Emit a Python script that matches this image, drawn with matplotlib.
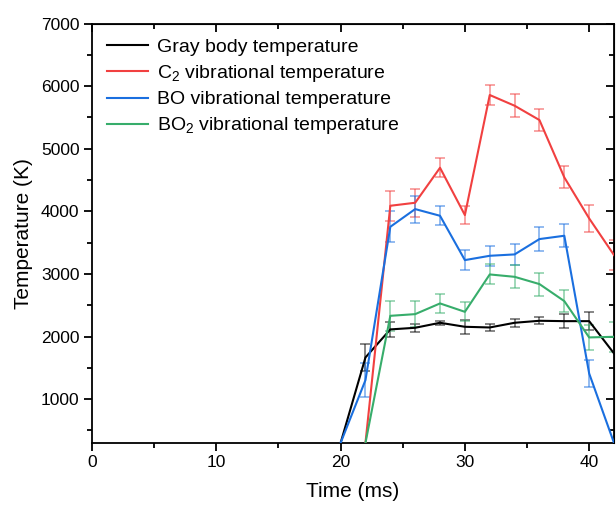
import numpy as np
import matplotlib
matplotlib.use("Agg")
import matplotlib.pyplot as plt
from matplotlib.ticker import MultipleLocator

plt.rcParams['font.family'] = ['Liberation Sans', 'DejaVu Sans']
plt.rcParams['mathtext.fontset'] = 'custom'
plt.rcParams['mathtext.rm'] = 'Liberation Sans'
plt.rcParams['mathtext.it'] = 'Liberation Sans:italic'

# ---- data ----
time_gray = [20, 22, 24, 26, 28, 30, 32, 34, 36, 38, 40, 42]
gray_T = [300, 1666, 2114, 2140, 2220, 2156, 2145, 2220, 2252, 2246, 2246, 1730]
gray_err = [0, 220, 115, 60, 30, 110, 55, 65, 55, 115, 145, 0]

time_c2 = [22, 24, 26, 28, 30, 32, 34, 36, 38, 40, 42]
c2_T = [300, 4089, 4137, 4696, 3940, 5858, 5687, 5458, 4542, 3887, 3301]
c2_err = [0, 240, 225, 150, 150, 160, 185, 175, 175, 210, 240]

time_bo = [20, 22, 24, 26, 28, 30, 32, 34, 36, 38, 40, 42]
bo_T = [300, 1304, 3753, 4036, 3929, 3221, 3290, 3312, 3557, 3610, 1410, 300]
bo_err = [0, 275, 245, 215, 150, 155, 160, 170, 185, 180, 215, 0]

time_bo2 = [22, 24, 26, 28, 30, 32, 34, 36, 38, 40, 42]
bo2_T = [300, 2331, 2358, 2529, 2395, 2992, 2954, 2838, 2566, 1986, 1996]
bo2_err = [0, 240, 210, 150, 150, 160, 185, 185, 180, 205, 240]

labels = ["Gray body temperature",
          "C$_2$ vibrational temperature",
          "BO vibrational temperature",
          "BO$_2$ vibrational temperature"]
colors = ["#000000", "#F14040", "#1A6FDF", "#37AD6B"]

fig = plt.figure(figsize=(6.16, 5.08), dpi=100)
ax = fig.add_axes([0.1494, 0.128, 0.9968 - 0.1494, 0.9537 - 0.128])

series = [(time_gray, gray_T, gray_err), (time_c2, c2_T, c2_err),
          (time_bo, bo_T, bo_err), (time_bo2, bo2_T, bo2_err)]

for (t, T, e), lab, c in zip(series, labels, colors):
    t = np.array(t); T = np.array(T, float); e = np.array(e, float)
    m = e > 0
    ax.errorbar(t[m], T[m], yerr=e[m], fmt='none', ecolor=c, alpha=0.6,
                elinewidth=1.1, capsize=3.5, capthick=1.1, zorder=2)
    ax.plot(t, T, color=c, lw=1.5, label=lab, zorder=3)

ax.set_xlim(0, 42)
ax.set_ylim(300, 7000)
ax.xaxis.set_major_locator(MultipleLocator(10))
ax.xaxis.set_minor_locator(MultipleLocator(5))
ax.yaxis.set_major_locator(MultipleLocator(1000))
ax.yaxis.set_minor_locator(MultipleLocator(500))
ax.set_yticks([1000, 2000, 3000, 4000, 5000, 6000, 7000])

for s in ax.spines.values():
    s.set_linewidth(1.3)

ax.tick_params(which='major', direction='out', length=6, width=1.3, labelsize=12.5, pad=3)
ax.tick_params(which='minor', direction='out', length=3.5, width=1.3)

secx = ax.secondary_xaxis('top')
secx.xaxis.set_major_locator(MultipleLocator(10))
secx.xaxis.set_minor_locator(MultipleLocator(5))
secx.tick_params(which='major', direction='in', length=6, width=1.3, labeltop=False)
secx.tick_params(which='minor', direction='in', length=3.5, width=1.3)
secy = ax.secondary_yaxis('right')
secy.yaxis.set_major_locator(MultipleLocator(1000))
secy.yaxis.set_minor_locator(MultipleLocator(500))
secy.tick_params(which='major', direction='in', length=6, width=1.3, labelright=False)
secy.tick_params(which='minor', direction='in', length=3.5, width=1.3)

ax.set_xlabel("Time (ms)", fontsize=15, labelpad=8)
ax.set_ylabel("Temperature (K)", fontsize=15, labelpad=6)

leg = ax.legend(loc='upper left', frameon=False, fontsize=14, handlelength=2.15,
                handletextpad=0.45, labelspacing=0.36, borderaxespad=0.45,
                borderpad=0.3, bbox_to_anchor=(0.0, 1.0))

fig.savefig("out.png", dpi=100)
